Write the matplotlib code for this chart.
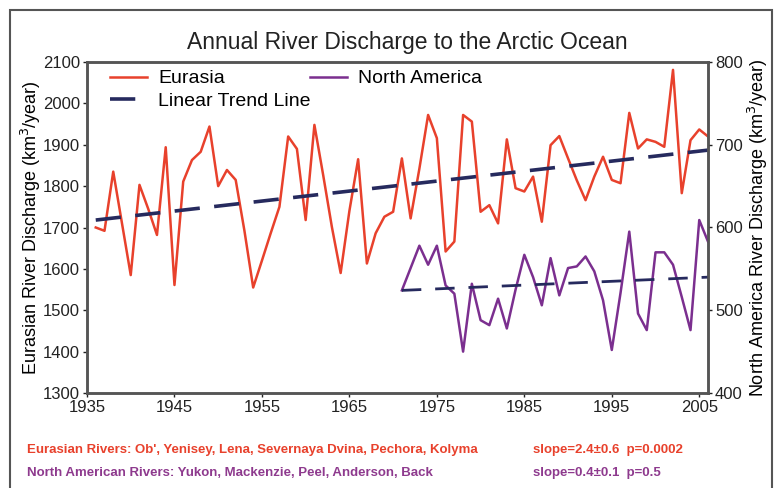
import numpy as np
import matplotlib
matplotlib.use('Agg')
import matplotlib.pyplot as plt
from matplotlib.patches import Rectangle

plt.rcParams['font.family'] = ['Liberation Sans', 'DejaVu Sans']

# Eurasian discharge, km3/year
eur_years = list(range(1936, 2007))
eur_vals = [1700, 1692, 1835, 1710, 1585, 1803, 1745, 1682, 1894, 1561,
            1811, 1863, 1883, 1944, 1800, 1839, 1815, 1692, 1555, 1620,
            1686, 1750, 1920, 1890, 1718, 1948, 1827, 1701, 1590, 1740,
            1865, 1613, 1686, 1726, 1738, 1867, 1722, 1842, 1972, 1916,
            1642, 1666, 1972, 1956, 1738, 1754, 1710, 1913, 1795, 1787,
            1823, 1714, 1899, 1921, 1867, 1814, 1766, 1823, 1871, 1815,
            1807, 1977, 1891, 1913, 1907, 1895, 2081, 1783, 1911, 1937,
            1920]

# North American discharge, km3/year
na_years = list(range(1971, 2007))
na_vals = [524, 551, 578, 555, 578, 530, 520, 450, 532, 488,
           482, 514, 478, 525, 567, 540, 506, 563, 518, 551,
           553, 565, 547, 512, 452, 521, 595, 496, 476, 570,
           570, 555, 516, 476, 609, 583]

# trend line end points
eur_trend_years = [1936, 2006]
eur_trend_vals = [1718, 1887]
na_trend_years = [1971, 2006]
na_trend_vals = [524, 540]

red = '#e8412c'
purple = '#7b2f8f'
navy = '#262a5e'

fig = plt.figure(figsize=(7.74, 4.88), dpi=100)
ax = fig.add_axes([87/774, 1-393/488, (708-87)/774, (393-62)/488])
ax2 = ax.twinx()

l1, = ax.plot(eur_years, eur_vals, color=red, linewidth=1.8, label='Eurasia')
l3, = ax.plot(eur_trend_years, eur_trend_vals, color=navy, linewidth=2.6,
              dashes=(7, 4), label='Linear Trend Line')
l2, = ax2.plot(na_years, na_vals, color=purple, linewidth=1.8, label='North America')
ax2.plot(na_trend_years, na_trend_vals, color=navy, linewidth=2.0, dashes=(7, 5))

ax.set_xlim(1935, 2006)
ax.set_ylim(1300, 2100)
ax2.set_ylim(400, 800)
ax.set_xticks(range(1935, 2006, 10))
ax.set_yticks(range(1300, 2101, 100))
ax2.set_yticks(range(400, 801, 100))

for a in (ax, ax2):
    a.tick_params(labelsize=12, length=3, width=1, colors='#222222', pad=2)
    for s in a.spines.values():
        s.set_color('#555555')
        s.set_linewidth(1.8)

ax.set_ylabel('Eurasian River Discharge (km$^3$/year)', fontsize=13, labelpad=0)
ax2.set_ylabel('North America River Discharge (km$^3$/year)', fontsize=13,
               rotation=90, labelpad=2)

leg = ax.legend(handles=[l1, l3, l2], ncol=2, loc='upper left', frameon=False,
                fontsize=14, handlelength=1.9, borderaxespad=0.0,
                borderpad=0.4, labelspacing=0.25, columnspacing=0.0,
                handletextpad=0.55, bbox_to_anchor=(0.025, 1.0))

fig.text(407/774, 1-42/488, 'Annual River Discharge to the Arctic Ocean',
         ha='center', va='center', fontsize=16.5, color='#222222')

fig.text(27/774, 1-450/488,
         "Eurasian Rivers: Ob', Yenisey, Lena, Severnaya Dvina, Pechora, Kolyma",
         ha='left', va='center', fontsize=9.5, fontweight='bold', color=red)
fig.text(533/774, 1-450/488, 'slope=2.4\u00b10.6  p=0.0002',
         ha='left', va='center', fontsize=9.5, fontweight='bold', color=red)
fig.text(27/774, 1-473/488,
         'North American Rivers: Yukon, Mackenzie, Peel, Anderson, Back',
         ha='left', va='center', fontsize=9.5, fontweight='bold', color='#8e3a8e')
fig.text(533/774, 1-473/488, 'slope=0.4\u00b10.1  p=0.5',
         ha='left', va='center', fontsize=9.5, fontweight='bold', color='#8e3a8e')

fig.patches.append(Rectangle((10/774, -0.05), (772-10)/774, 1-10/488+0.05,
                             transform=fig.transFigure, fill=False,
                             edgecolor='#555555', linewidth=1.5))

fig.savefig('out.png', dpi=100)
